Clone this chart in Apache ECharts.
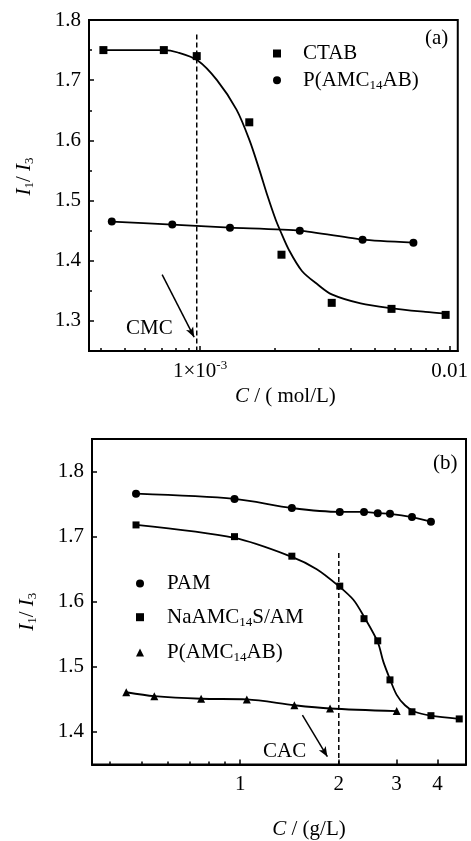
<!DOCTYPE html>
<html style="height: 100%">
<head>
    <meta charset="utf-8">
</head>
<body style="height: 100%; margin: 0; background: #fff">
    <div id="container" style="width: 471px; height: 841px"></div>
    <script type="text/javascript" src="https://cdn.jsdelivr.net/npm/echarts@6.0.0/dist/echarts.min.js"></script>
    <script type="text/javascript">
        var font = 'Liberation Serif';

        // panel (a): C in mol/L
        var ctabC = [4.1e-4, 7.16e-4, 9.7e-4, 1.575e-3, 2.12e-3, 3.37e-3, 5.85e-3, 9.64e-3];
        var ctabI = [1.75, 1.75, 1.74, 1.63, 1.41, 1.33, 1.32, 1.31];
        // fitted curve
        var ctabFitC = [4.1e-4, 7.16e-4, 8.15e-4, 9.76e-4, 1.169e-3, 1.4e-3, 1.579e-3, 1.729e-3, 1.866e-3,
            2.01e-3, 2.1e-3, 2.27e-3, 2.56e-3, 2.97e-3, 3.37e-3, 4.4e-3, 5.85e-3, 8.0e-3, 9.67e-3];
        var ctabFitI = [1.75, 1.75, 1.746, 1.733, 1.70, 1.651, 1.60, 1.551, 1.507,
            1.468, 1.449, 1.418, 1.383, 1.360, 1.344, 1.329, 1.321, 1.315, 1.312];
        var polyAC = [4.43e-4, 7.74e-4, 1.318e-3, 2.51e-3, 4.48e-3, 7.16e-3];
        var polyAI = [1.465, 1.46, 1.455, 1.45, 1.435, 1.43];
        var cmcLine = [[9.7e-4, 1.776], [9.7e-4, 1.25]];
        var cmcArrow = [[7.05e-4, 1.377], [9.47e-4, 1.273]];

        // panel (b): C in g/L
        var pamC = [0.481, 0.961, 1.438, 2.014, 2.388, 2.63, 2.866, 3.345, 3.822];
        var pamI = [1.766, 1.758, 1.744, 1.738, 1.738, 1.736, 1.735, 1.730, 1.723];
        var naC = [0.481, 0.961, 1.438, 2.014, 2.388, 2.63, 2.866, 3.345, 3.822, 4.663];
        var naI = [1.718, 1.700, 1.670, 1.624, 1.574, 1.540, 1.480, 1.431, 1.425, 1.420];
        // fitted curve for NaAMC14S/AM
        var naFitC = [0.482, 0.961, 1.438, 1.713, 2.0, 2.216, 2.388, 2.63, 2.735, 2.866, 3.004, 3.185, 3.41, 3.822, 4.663];
        var naFitI = [1.718, 1.698, 1.669, 1.650, 1.624, 1.603, 1.577, 1.538, 1.508, 1.481, 1.457, 1.441, 1.431, 1.425, 1.420];
        var polyBC = [0.449, 0.547, 0.76, 1.048, 1.464, 1.881, 3.005];
        var polyBI = [1.461, 1.455, 1.451, 1.450, 1.441, 1.436, 1.432];
        var cacLine = [[2.0, 1.675], [2.0, 1.35]];
        var cacArrow = [[1.549, 1.426], [1.846, 1.362]];

        // ticks
        var aMajorX = [1e-3, 1e-2];
        var aMinorX = [4e-4, 5e-4, 6e-4, 7e-4, 8e-4, 9e-4, 2e-3, 3e-3, 4e-3, 5e-3, 6e-3, 7e-3, 8e-3, 9e-3];
        var bMajorX = [1, 2, 3, 4];
        var bMinorX = [0.4, 0.5, 0.6, 0.7, 0.8, 0.9];
        var aMajorY = [1.3, 1.4, 1.5, 1.6, 1.7, 1.8];
        var aMinorY = [1.35, 1.45, 1.55, 1.65, 1.75];
        var bMajorY = [1.4, 1.5, 1.6, 1.7, 1.8];

        function pairs(xs, ys) {
            return xs.map(function (x, i) { return [x, ys[i]]; });
        }

        var rich = {
            n: { fontFamily: font, fontSize: 21, lineHeight: 24, color: '#000' },
            i: { fontFamily: font, fontSize: 21, lineHeight: 24, fontStyle: 'italic', color: '#000' },
            s: { fontFamily: font, fontSize: 13, lineHeight: 13, verticalAlign: 'bottom', color: '#000' },
            sup: { fontFamily: font, fontSize: 13, lineHeight: 13, verticalAlign: 'top', color: '#000' },
            sp: { width: 17 },
            sp2: { width: 18 }
        };

        var legendNames = {
            'CTAB': '{sp|}{n|CTAB}',
            'P(AMC14AB)-a': '{sp|}{n|P(AMC}{s|14}{n|AB)}',
            'PAM': '{sp2|}{n|PAM}',
            'NaAMC14S/AM': '{sp2|}{n|NaAMC}{s|14}{n|S/AM}',
            'P(AMC14AB)-b': '{sp2|}{n|P(AMC}{s|14}{n|AB)}'
        };

        function xMajor(grid, min, max, ticks, fmt, name, gap, pad) {
            return {
                type: 'log', logBase: 10, gridIndex: grid, min: min, max: max, position: 'bottom',
                name: name, nameLocation: 'middle', nameGap: gap,
                nameTextStyle: { rich: rich, padding: pad },
                axisLine: { lineStyle: { color: '#000', width: 2 } },
                axisTick: { inside: true, length: 5, customValues: ticks, lineStyle: { color: '#000', width: 1.5 } },
                axisLabel: { customValues: ticks, margin: 8, formatter: fmt, rich: rich },
                splitLine: { show: false }, minorTick: { show: false }
            };
        }
        function xMinor(grid, min, max, ticks) {
            return {
                type: 'log', logBase: 10, gridIndex: grid, min: min, max: max, position: 'bottom',
                axisLine: { show: false },
                axisTick: { inside: true, length: 3, customValues: ticks, lineStyle: { color: '#000', width: 1.5 } },
                axisLabel: { show: false }, splitLine: { show: false }
            };
        }
        function yAxisOf(grid, min, max, ticks, len, labels, name, pad) {
            return {
                type: 'value', gridIndex: grid, min: min, max: max, position: 'left',
                name: labels ? name : '', nameLocation: 'middle', nameGap: 53,
                nameTextStyle: { rich: rich, padding: pad },
                axisLine: { show: labels, lineStyle: { color: '#000', width: 2 } },
                axisTick: { show: true, inside: true, length: len, customValues: ticks, lineStyle: { color: '#000', width: 1.5 } },
                axisLabel: {
                    show: labels, customValues: ticks, margin: 8,
                    fontFamily: font, fontSize: 21, color: '#000',
                    formatter: function (v) { return v.toFixed(1); }
                },
                splitLine: { show: false }
            };
        }

        var yName = '{i|I}{s|1}{n|/ }{i|I}{s|3}';

        var arrowMark = function (seg) {
            return [{ coord: seg[0], symbol: 'none' }, { coord: seg[1], symbol: 'arrow', symbolSize: [6, 10] }];
        };

        var dom = document.getElementById('container');
        var myChart = echarts.init(dom, null, { renderer: 'canvas' });

        var option = {
            animation: false,
            backgroundColor: '#fff',
            grid: [
                { left: 89, top: 20, width: 377, height: 331, show: true, borderColor: '#000', borderWidth: 2 },
                { left: 92, top: 439, width: 374, height: 331, show: true, borderColor: '#000', borderWidth: 2 }
            ],
            xAxis: [
                xMajor(0, 3.59e-4, 0.01078, aMajorX, function (v) {
                    return v < 5e-3 ? '{n|1×10}{sup|-3}' : '{n|0.01}';
                }, '{i|C}{n| / ( mol/L)}', 33, [0, 0, 0, 24]),
                xMinor(0, 3.59e-4, 0.01078, aMinorX),
                xMajor(1, 0.353, 4.89, bMajorX, function (v) {
                    return '{n|' + Math.round(v) + '}';
                }, '{i|C}{n| / (g/L)}', 53, [0, 0, 0, 60]),
                xMinor(1, 0.353, 4.89, bMinorX)
            ],
            yAxis: [
                yAxisOf(0, 1.25, 1.8, aMajorY, 5, true, yName, [0, 0, 0, 18]),
                yAxisOf(0, 1.25, 1.8, aMinorY, 3, false, '', 0),
                yAxisOf(1, 1.35, 1.85, bMajorY, 5, true, yName, [0, 20, 0, 0])
            ],
            legend: [
                {
                    left: 268, top: 38, orient: 'vertical', itemWidth: 8, itemHeight: 8, itemGap: 5.7,
                    selectedMode: false,
                    data: [{ name: 'CTAB', icon: 'rect' }, { name: 'P(AMC14AB)-a', icon: 'circle' }],
                    formatter: function (n) { return legendNames[n]; },
                    textStyle: { rich: rich }
                },
                {
                    left: 131, top: 568, orient: 'vertical', itemWidth: 8, itemHeight: 8, itemGap: 12.7,
                    selectedMode: false,
                    data: [{ name: 'PAM', icon: 'circle' }, { name: 'NaAMC14S/AM', icon: 'rect' },
                        { name: 'P(AMC14AB)-b', icon: 'triangle' }],
                    formatter: function (n) { return legendNames[n]; },
                    textStyle: { rich: rich }
                }
            ],
            graphic: [
                { type: 'text', left: 425, top: 28, style: { text: '(a)', font: '21px "Liberation Serif"', fill: '#000' } },
                { type: 'text', left: 433, top: 453, style: { text: '(b)', font: '21px "Liberation Serif"', fill: '#000' } },
                { type: 'text', left: 126, top: 318, style: { text: 'CMC', font: '21px "Liberation Serif"', fill: '#000' } },
                { type: 'text', left: 263, top: 741, style: { text: 'CAC', font: '21px "Liberation Serif"', fill: '#000' } }
            ],
            series: [
                {
                    name: 'CTAB', type: 'scatter', xAxisIndex: 0, yAxisIndex: 0,
                    symbol: 'rect', symbolSize: 8, itemStyle: { color: '#000', opacity: 1 },
                    data: pairs(ctabC, ctabI), z: 3
                },
                {
                    name: 'CTAB fit', type: 'line', xAxisIndex: 0, yAxisIndex: 0,
                    smooth: 0.3, showSymbol: false,
                    lineStyle: { color: '#000', width: 1.8 },
                    data: pairs(ctabFitC, ctabFitI),
                    markLine: {
                        silent: true, label: { show: false },
                        lineStyle: { color: '#000', width: 1.5, type: 'solid' },
                        data: [arrowMark(cmcArrow)]
                    }
                },
                {
                    name: 'CMC', type: 'line', xAxisIndex: 0, yAxisIndex: 0, showSymbol: false,
                    lineStyle: { color: '#000', width: 1.5, type: [5, 3] },
                    data: cmcLine
                },
                {
                    name: 'P(AMC14AB)-a', type: 'line', xAxisIndex: 0, yAxisIndex: 0,
                    smooth: 0.2, symbol: 'circle', symbolSize: 8,
                    itemStyle: { color: '#000', opacity: 1 }, lineStyle: { color: '#000', width: 1.8 },
                    data: pairs(polyAC, polyAI)
                },
                {
                    name: 'PAM', type: 'line', xAxisIndex: 2, yAxisIndex: 2,
                    smooth: 0.3, symbol: 'circle', symbolSize: 8,
                    itemStyle: { color: '#000', opacity: 1 }, lineStyle: { color: '#000', width: 1.8 },
                    data: pairs(pamC, pamI)
                },
                {
                    name: 'NaAMC14S/AM', type: 'scatter', xAxisIndex: 2, yAxisIndex: 2,
                    symbol: 'rect', symbolSize: 7, itemStyle: { color: '#000', opacity: 1 },
                    data: pairs(naC, naI), z: 3
                },
                {
                    name: 'NaAMC fit', type: 'line', xAxisIndex: 2, yAxisIndex: 2,
                    smooth: 0.3, showSymbol: false,
                    lineStyle: { color: '#000', width: 1.8 },
                    data: pairs(naFitC, naFitI),
                    markLine: {
                        silent: true, label: { show: false },
                        lineStyle: { color: '#000', width: 1.5, type: 'solid' },
                        data: [arrowMark(cacArrow)]
                    }
                },
                {
                    name: 'CAC', type: 'line', xAxisIndex: 2, yAxisIndex: 2, showSymbol: false,
                    lineStyle: { color: '#000', width: 1.5, type: [5, 3] },
                    data: cacLine
                },
                {
                    name: 'P(AMC14AB)-b', type: 'line', xAxisIndex: 2, yAxisIndex: 2,
                    smooth: 0.3, symbol: 'triangle', symbolSize: 8,
                    itemStyle: { color: '#000', opacity: 1 }, lineStyle: { color: '#000', width: 1.8 },
                    data: pairs(polyBC, polyBI)
                }
            ]
        };

        if (option && typeof option === "object") {
            myChart.setOption(option, true);
        }
    </script>
</body>
</html>
